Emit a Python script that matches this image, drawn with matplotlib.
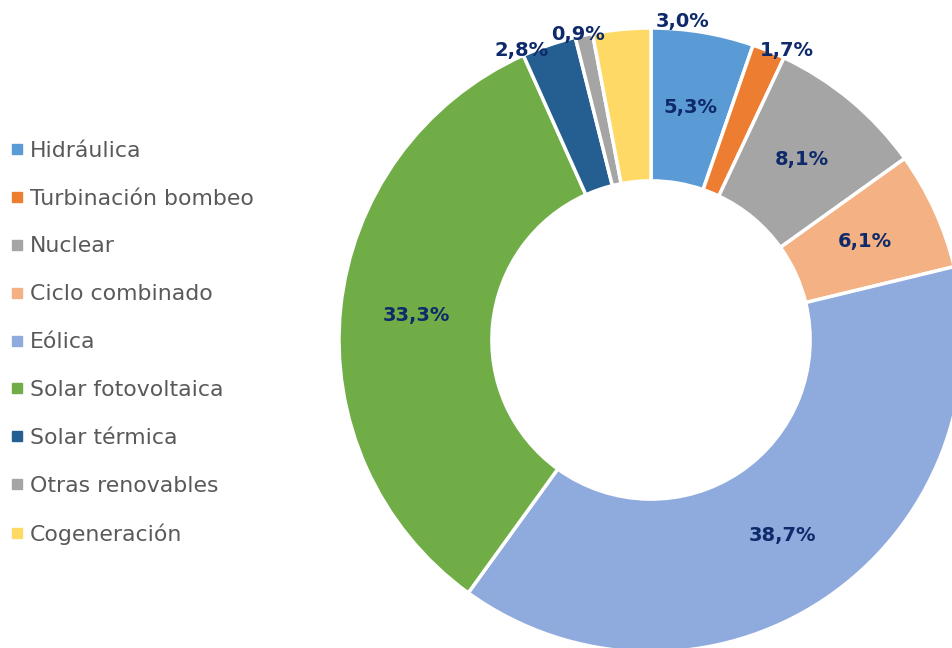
import numpy as np
from matplotlib import pyplot as plt
from matplotlib.lines import Line2D

categories = ["Hidráulica", "Turbinación bombeo", "Nuclear", "Ciclo combinado", "Eólica",
              "Solar fotovoltaica", "Solar térmica", "Otras renovables", "Cogeneración"]
shares = [5.3, 1.7, 8.1, 6.1, 38.7, 33.3, 2.8, 0.9, 3.0]
labels = ["5,3%", "1,7%", "8,1%", "6,1%", "38,7%", "33,3%", "2,8%", "0,9%", "3,0%"]
colors = ["#5B9BD5", "#ED7D31", "#A5A5A5", "#F4B183", "#8FAADC",
          "#70AD47", "#255E91", "#A5A5A5", "#FFD966"]

# label placement: inside the ring or just outside it (angle nudge in degrees, radial extra)
outside = [False, True, False, False, False, False, True, True, True]
nudge = [0, 3, 0, 0, 0, 0, -5, -1, 11]
extra = [0, 8, 0, 0, 0, 0, 5, 2, 8]

fig = plt.figure(figsize=(9.53, 6.48), dpi=100, facecolor="white")
ax = fig.add_axes([0, 0, 1, 1])

cx, cy, R = 651, 308, 312
width = 0.49

wedges, _ = ax.pie(shares, colors=colors, startangle=90, counterclock=False,
                   center=(cx, cy), radius=R,
                   wedgeprops=dict(width=R * width, edgecolor="white", linewidth=2.5))
ax.set_xlim(0, 953)
ax.set_ylim(0, 648)
ax.set_aspect("equal")
ax.axis("off")

total = sum(shares)
cum = np.cumsum([0] + shares[:-1])
for i, lab in enumerate(labels):
    mid = (cum[i] + shares[i] / 2) / total * 360 + nudge[i]
    r = R + extra[i] if outside[i] else R * (1 - width / 2)
    a = np.deg2rad(90 - mid)
    ax.text(cx + r * np.cos(a), cy + r * np.sin(a), lab, ha="center", va="center",
            fontsize=14, fontweight="bold", color="#0E2A6A")

handles = [Line2D([], [], marker="s", linestyle="", markersize=7, color=c) for c in colors]
leg = fig.legend(handles, categories, loc="upper left", bbox_to_anchor=(0.004, 0.793),
                 frameon=False, fontsize=15.8, labelspacing=1.27, handlelength=0.6,
                 handletextpad=0.3, borderaxespad=0.1, borderpad=0.2)
for t in leg.get_texts():
    t.set_color("#595959")

plt.savefig("out.png", dpi=100, facecolor="white")
